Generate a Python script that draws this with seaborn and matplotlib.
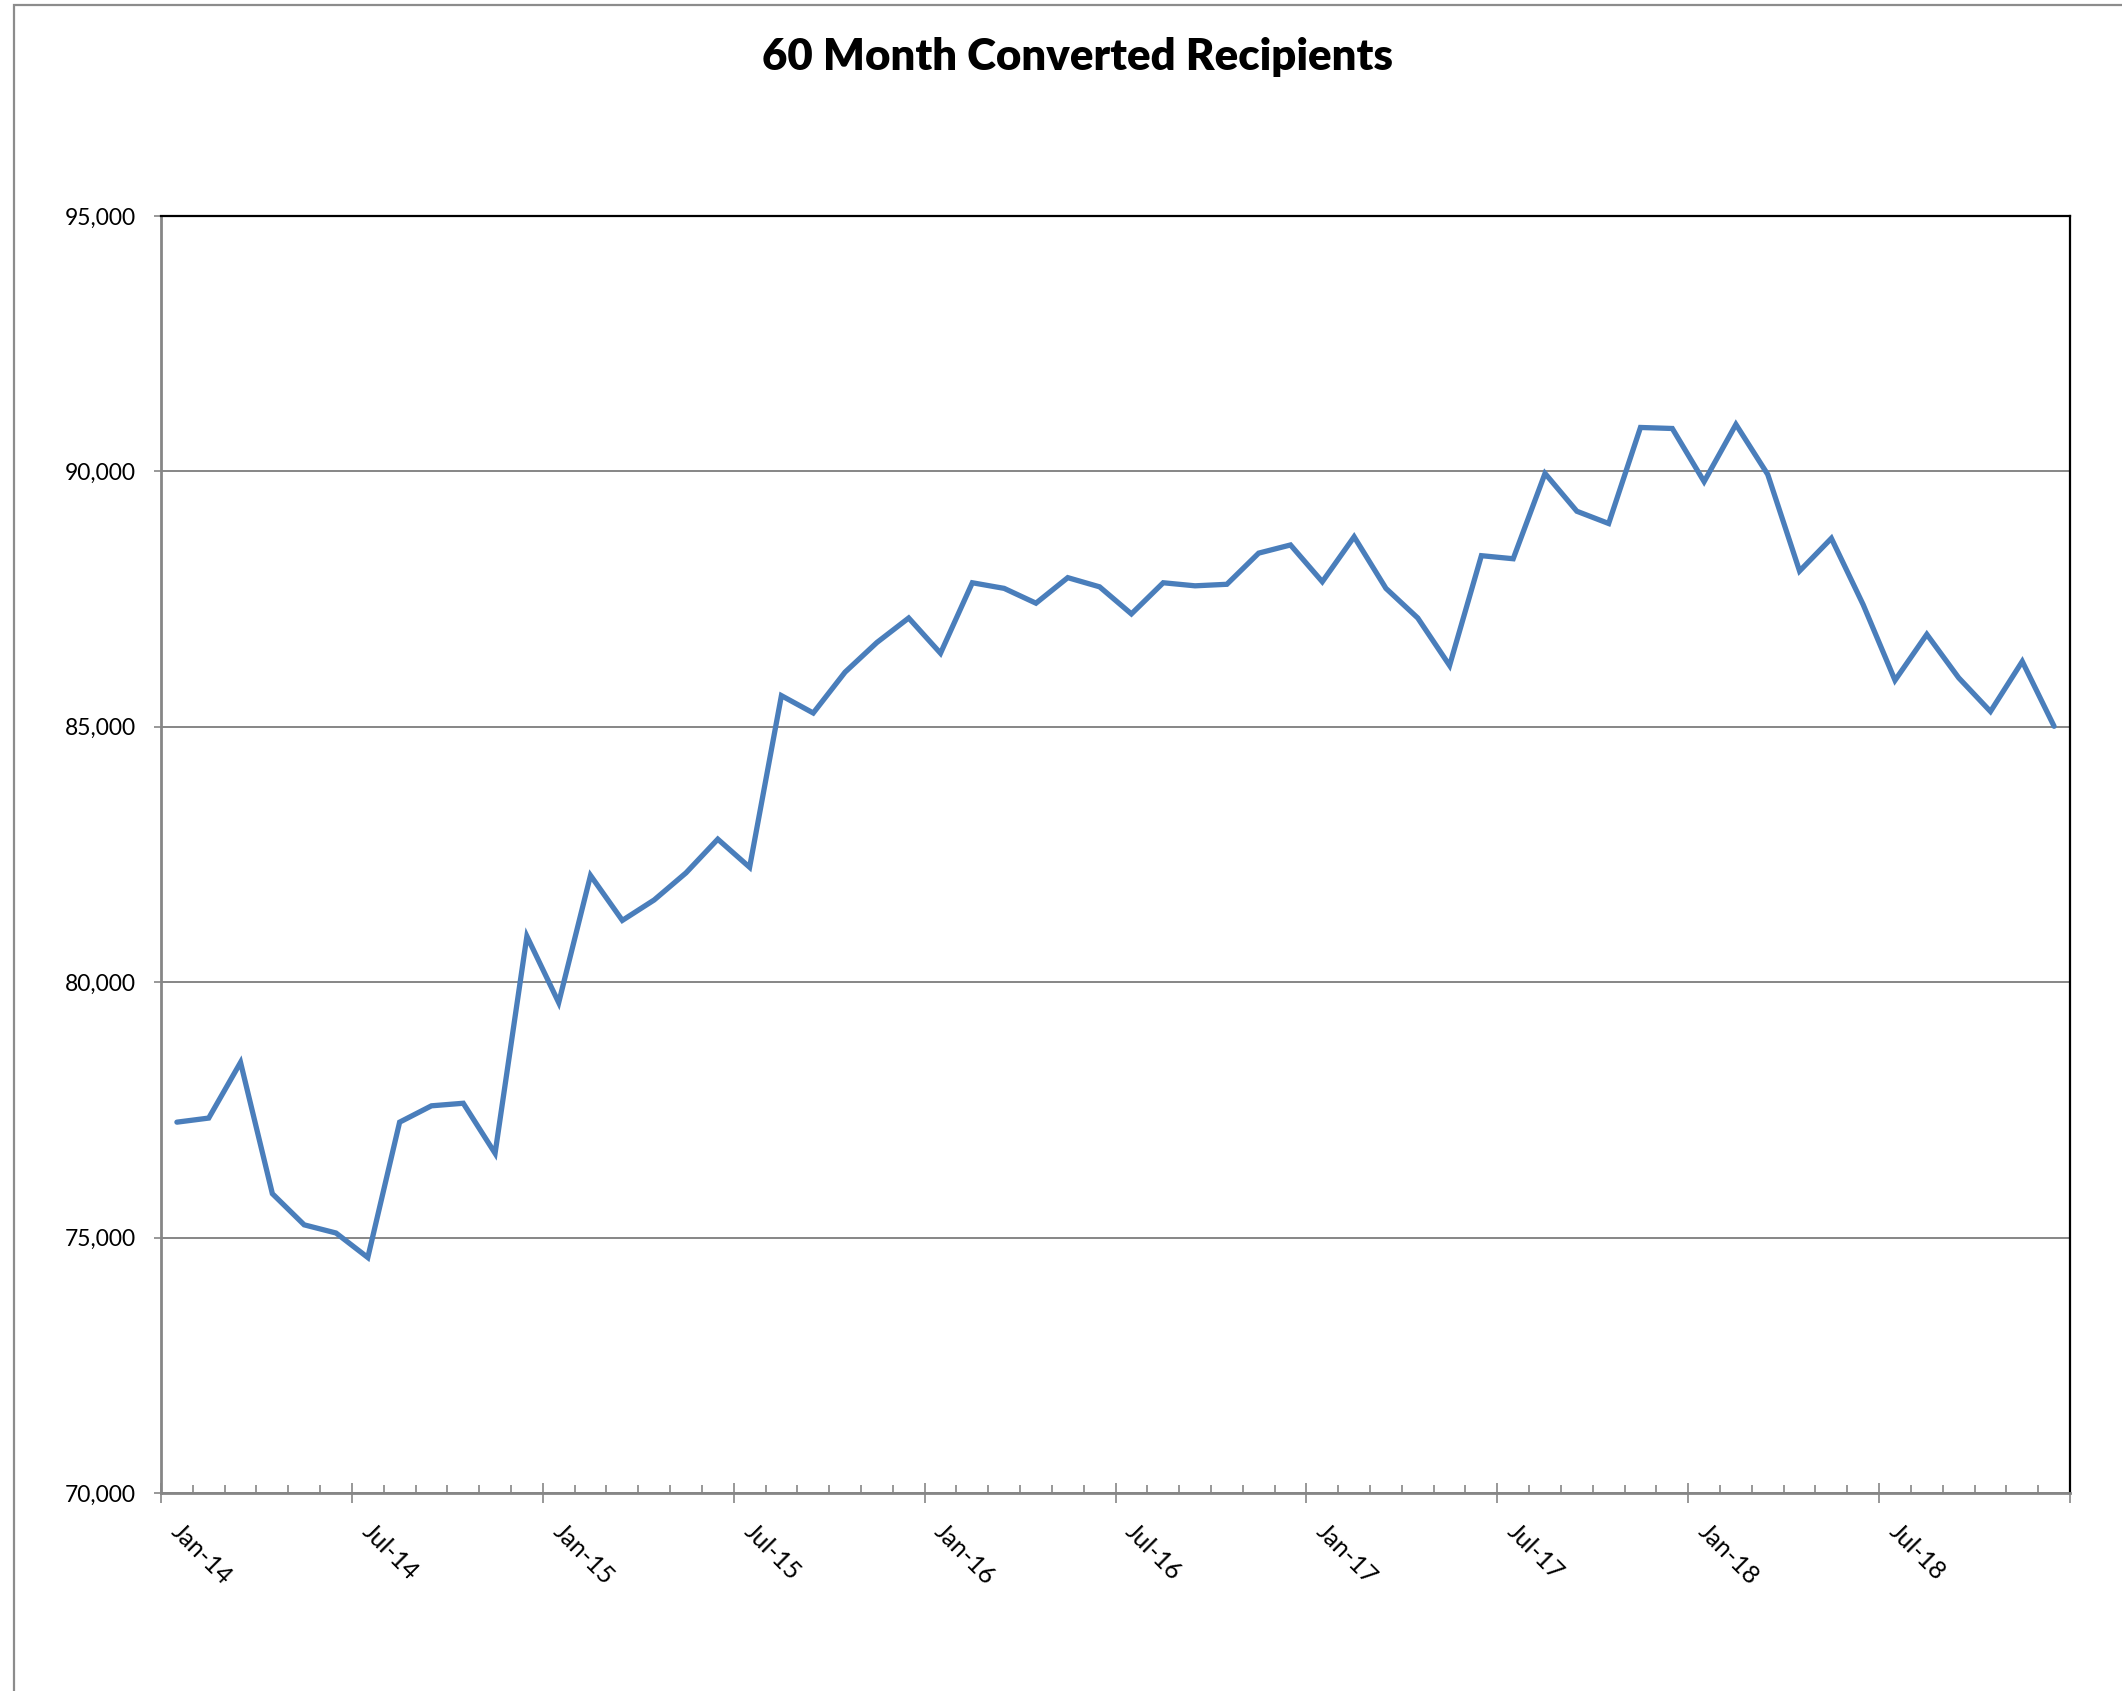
import matplotlib
matplotlib.use("Agg")
import matplotlib.pyplot as plt
import matplotlib.transforms as mtransforms
from matplotlib.patches import Rectangle
from matplotlib.ticker import FuncFormatter, FixedLocator
import numpy as np
import pandas as pd
import seaborn as sns

# Monthly counts, Jan 2014 through Dec 2018
years = ["14", "15", "16", "17", "18"]
month_names = ["Jan", "Feb", "Mar", "Apr", "May", "Jun",
               "Jul", "Aug", "Sep", "Oct", "Nov", "Dec"]
months = [f"{m}-{y}" for y in years for m in month_names]

recipients = [
    77260, 77340, 78430, 75860, 75250, 75090, 74610, 77260, 77580, 77630, 76650, 80900,
    79600, 82090, 81210, 81610, 82140, 82800, 82250, 85610, 85270, 86070, 86650, 87130,
    86440, 87820, 87710, 87420, 87920, 87740, 87210, 87820, 87760, 87790, 88400, 88560,
    87840, 88720, 87710, 87130, 86200, 88350, 88290, 89960, 89220, 88980, 90860, 90840,
    89800, 90920, 89940, 88050, 88690, 87390, 85910, 86810, 85960, 85300, 86280, 85010,
]

df = pd.DataFrame({"idx": np.arange(len(months)), "month": months, "value": recipients})

sns.set_style("white")
plt.rcParams["font.family"] = ["Lato", "DejaVu Sans"]
plt.rcParams["text.color"] = "black"
plt.rcParams["xtick.labelcolor"] = "black"
plt.rcParams["ytick.labelcolor"] = "black"

W, H, DPI = 2122, 1691, 100
fig = plt.figure(figsize=(W / DPI, H / DPI), dpi=DPI)
fig.patch.set_facecolor("white")

left, right, top, bottom = 161, 2070, 216, 1493
ax = fig.add_axes([left / W, 1 - bottom / H, (right - left) / W, (bottom - top) / H])

sns.lineplot(data=df, x="idx", y="value", ax=ax, color="#4A7EBB",
             linewidth=3.8, solid_joinstyle="miter")

ax.set_xlim(-0.5, len(months) - 0.5)
ax.set_ylim(70000, 95000)
ax.set_xlabel("")
ax.set_ylabel("")

# y axis
ax.set_yticks(np.arange(70000, 95001, 5000))
ax.yaxis.set_major_formatter(FuncFormatter(lambda v, p: f"{int(v):,}"))
ax.yaxis.grid(True, color="#868686", linewidth=1.4)
ax.tick_params(axis="y", which="major", direction="out", length=5, width=1.2,
               color="#868686", labelsize=16.5, labelcolor="black", pad=13, left=True)

# x axis: monthly minor ticks, labelled major ticks every six months
edges = np.arange(-0.5, len(months), 1.0)
major_pos = edges[::6]
major_labels = [months[i] if i < len(months) else "" for i in range(0, len(edges), 6)]
ax.xaxis.set_major_locator(FixedLocator(major_pos))
ax.xaxis.set_minor_locator(FixedLocator(edges))
ax.set_xticklabels(major_labels)
ax.tick_params(axis="x", which="major", direction="inout", length=14, width=1.2,
               color="#868686", labelsize=18, labelcolor="black", pad=12, bottom=True)
ax.tick_params(axis="x", which="minor", direction="in", length=6, width=1.2,
               color="#868686", bottom=True)
offset = mtransforms.ScaledTranslation(22 / DPI, 0, fig.dpi_scale_trans)
for lab in ax.get_xticklabels():
    lab.set_rotation(-45)
    lab.set_ha("left")
    lab.set_va("top")
    lab.set_rotation_mode("anchor")
    lab.set_transform(lab.get_transform() + offset)

for side in ["left", "bottom"]:
    ax.spines[side].set_color("#868686")
    ax.spines[side].set_linewidth(2)
for side in ["top", "right"]:
    ax.spines[side].set_color("black")
    ax.spines[side].set_linewidth(1.6)
ax.set_axisbelow(True)

fig.text(1078 / W, 1 - 57 / H, "60 Month Converted Recipients",
         ha="center", va="center", fontsize=31.5, fontweight="heavy", color="black")

# outer chart frame
fig.patches.append(Rectangle((14 / W, -0.1), 1.2, 1.1 - 5 / H,
                             transform=fig.transFigure, fill=False,
                             edgecolor="#8C8C8C", linewidth=1.6))

fig.savefig("out.png", dpi=DPI, facecolor="white")
